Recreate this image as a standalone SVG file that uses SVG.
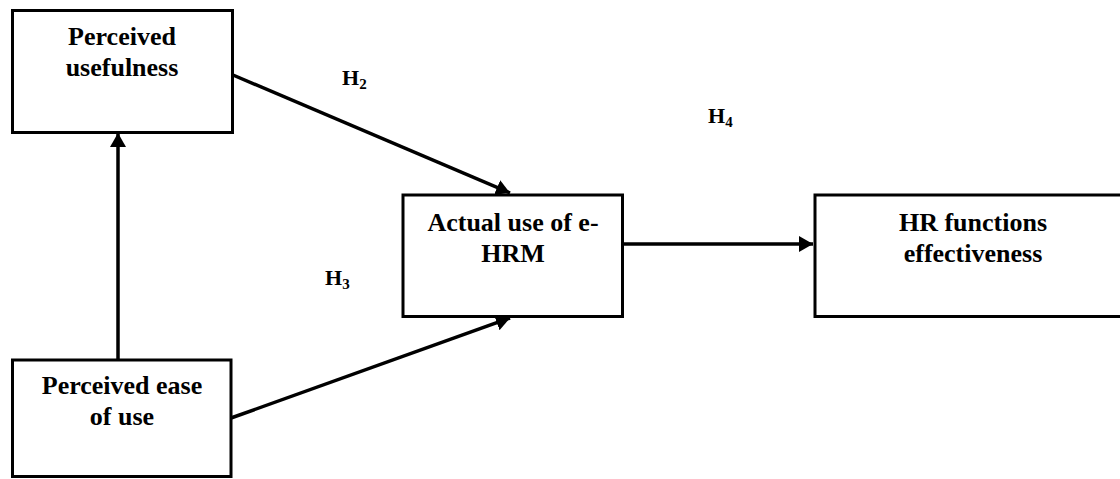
<svg xmlns="http://www.w3.org/2000/svg" width="1120" height="479" viewBox="0 0 1120 479">
<defs>
<style>
.box{fill:#fff;stroke:#000;stroke-width:3}
.t{font-weight:bold;font-size:26px;fill:#000;text-anchor:middle}
.h{font-weight:bold;font-size:22px;fill:#000}
.sub{font-size:15px}
.c{stroke:#000;stroke-width:3.5;fill:none;marker-end:url(#ah)}
</style>
<marker id="ah" markerUnits="userSpaceOnUse" markerWidth="16" markerHeight="18" refX="14" refY="8" orient="auto">
<path d="M0,0 L14,8 L0,16 Z" fill="#000"/>
</marker>
</defs>
<rect width="1120" height="479" fill="#fff"/>
<g id="connectors">
<line class="c" x1="118" y1="360" x2="118" y2="133"/>
<line class="c" x1="233" y1="75" x2="510" y2="193"/>
<line class="c" x1="231" y1="418" x2="510" y2="318"/>
<line class="c" x1="623" y1="244" x2="813" y2="244"/>
</g>
<g font-family="'Liberation Serif', 'Times New Roman', 'DejaVu Serif', serif">
<g id="node-usefulness">
<rect class="box" x="12.5" y="10.5" width="220" height="122"/>
<text class="t" x="122" y="45">Perceived</text>
<text class="t" x="122" y="76">usefulness</text>
</g>
<g id="node-ease">
<rect class="box" x="12.5" y="360" width="218.5" height="116.5"/>
<text class="t" x="122" y="394">Perceived ease</text>
<text class="t" x="122" y="425">of use</text>
</g>
<g id="node-actual">
<rect class="box" x="403" y="195" width="219.5" height="121.5"/>
<text class="t" x="513" y="231">Actual use of e-</text>
<text class="t" x="513" y="262">HRM</text>
</g>
<g id="node-hr">
<rect class="box" x="815" y="195" width="318" height="121.5"/>
<text class="t" x="973" y="231">HR functions</text>
<text class="t" x="973" y="262">effectiveness</text>
</g>
<g id="labels">
<text class="h" x="342" y="85">H<tspan class="sub" dy="4">2</tspan></text>
<text class="h" x="325" y="285">H<tspan class="sub" dy="4">3</tspan></text>
<text class="h" x="708" y="123">H<tspan class="sub" dy="4">4</tspan></text>
</g>
</g>
</svg>
